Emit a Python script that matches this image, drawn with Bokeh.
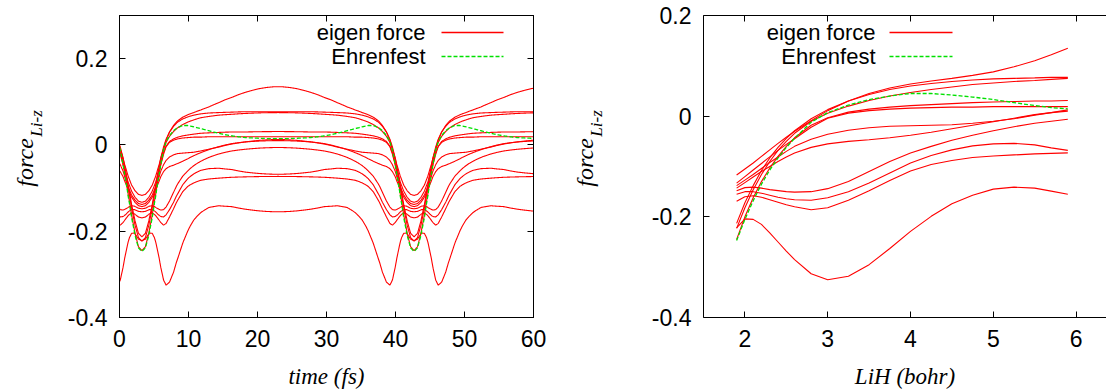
import numpy as np
from bokeh.plotting import figure
from bokeh.layouts import row
from bokeh.models import Range1d, LinearAxis, FixedTicker, Label, Arrow, CustomJSTickFormatter
from bokeh.core.properties import value
from bokeh.embed import file_html
from bokeh.resources import INLINE

# ---------------- data ----------------
# LiH bond length grid (bohr) of the right panel
R_grid = [1.9, 2.0, 2.1, 2.2, 2.3, 2.4, 2.5, 2.6, 2.8, 3.0, 3.25, 3.5, 3.75,
          4.0, 4.25, 4.5, 4.75, 5.0, 5.25, 5.5, 5.7, 5.9]

# eigen forces (Li, z) along the grid
force_c1 = [-0.117, -0.105, -0.093, -0.080, -0.067, -0.054, -0.042, -0.030, -0.009, 0.011, 0.030, 0.045, 0.056,
            0.064, 0.070, 0.075, 0.081, 0.088, 0.098, 0.110, 0.122, 0.135]
force_c2 = [-0.213, -0.172, -0.138, -0.108, -0.083, -0.062, -0.044, -0.029, -0.005, 0.013, 0.030, 0.043, 0.053,
            0.060, 0.065, 0.069, 0.072, 0.074, 0.075, 0.076, 0.077, 0.077]
force_c3 = [-0.223, -0.182, -0.146, -0.116, -0.090, -0.068, -0.050, -0.034, -0.010, 0.006, 0.020, 0.031, 0.040,
            0.047, 0.053, 0.058, 0.063, 0.066, 0.069, 0.071, 0.073, 0.075]
force_c4 = [-0.245, -0.200, -0.162, -0.130, -0.103, -0.080, -0.060, -0.043, -0.018, -0.003, 0.008, 0.014, 0.018,
            0.021, 0.023, 0.025, 0.027, 0.028, 0.029, 0.030, 0.030, 0.031]
force_c5 = [-0.133, -0.120, -0.107, -0.094, -0.081, -0.068, -0.056, -0.045, -0.022, -0.004, 0.006, 0.011, 0.014,
            0.016, 0.017, 0.018, 0.018, 0.019, 0.019, 0.019, 0.019, 0.019]
force_c6 = [-0.138, -0.127, -0.116, -0.104, -0.092, -0.081, -0.070, -0.060, -0.046, -0.036, -0.028, -0.023, -0.020,
            -0.019, -0.018, -0.017, -0.014, -0.010, -0.005, 0.002, 0.007, 0.0125]
force_c7 = [-0.143, -0.132, -0.121, -0.110, -0.100, -0.090, -0.081, -0.073, -0.062, -0.055, -0.050, -0.047, -0.043,
            -0.038, -0.032, -0.025, -0.018, -0.011, -0.004, 0.003, 0.007, 0.010]
force_c8 = [-0.148, -0.142, -0.141, -0.143, -0.146, -0.148, -0.150, -0.151, -0.150, -0.144, -0.130, -0.110, -0.090,
            -0.073, -0.060, -0.048, -0.038, -0.029, -0.021, -0.014, -0.010, -0.006]
force_c9 = [-0.155, -0.150, -0.150, -0.153, -0.157, -0.161, -0.164, -0.166, -0.167, -0.162, -0.150, -0.133, -0.113,
            -0.093, -0.078, -0.067, -0.059, -0.055, -0.054, -0.057, -0.063, -0.068]
force_c10 = [-0.169, -0.160, -0.158, -0.161, -0.166, -0.171, -0.176, -0.180, -0.186, -0.182, -0.167, -0.148, -0.128,
             -0.109, -0.096, -0.088, -0.082, -0.079, -0.077, -0.075, -0.074, -0.073]
force_c11 = [-0.222, -0.204, -0.205, -0.215, -0.232, -0.250, -0.268, -0.285, -0.313, -0.325, -0.318, -0.295, -0.263,
             -0.229, -0.199, -0.174, -0.157, -0.145, -0.141, -0.143, -0.149, -0.155]
eigen_curves = [force_c1, force_c2, force_c3, force_c4, force_c5, force_c6, force_c7,
                force_c8, force_c9, force_c10, force_c11]

# Ehrenfest force along the grid
force_ehrenfest = [-0.247, -0.205, -0.168, -0.135, -0.107, -0.083, -0.062, -0.044, -0.012, 0.007, 0.022, 0.033, 0.040,
                   0.045, 0.045, 0.042, 0.038, 0.033, 0.027, 0.021, 0.017, 0.0145]

# LiH trajectory: bond length vs. time elapsed since the inner turning point (half period)
traj_offset_fs = [0, 0.5, 1.0, 1.5, 2.0, 2.5, 3.0, 3.5, 4.0, 5.0, 6.0, 7.0, 8.0, 9.0, 10.0, 11.0, 12.0,
                  13.0, 14.0, 15.0, 16.0, 17.0, 18.0, 19.0, 19.72]
traj_R_bohr = [1.90, 1.92, 1.99, 2.10, 2.26, 2.47, 2.73, 3.00, 3.25, 3.68, 4.04, 4.36, 4.63, 4.86, 5.06, 5.23, 5.38,
               5.50, 5.61, 5.70, 5.77, 5.83, 5.87, 5.895, 5.90]
first_inner_turn_fs = 3.25
half_period_fs = 19.72

# axes ticks
time_ticks = [0, 10, 20, 30, 40, 50, 60]
lih_ticks = [2, 3, 4, 5, 6]
left_y_ticks = [-0.4, -0.2, 0, 0.2]
right_y_ticks = [-0.4, -0.2, 0, 0.2]
y_tick_labels = {-0.4: "-0.4", -0.2: "-0.2", 0: "0", 0.2: "0.2"}

RED = "#ff0000"
GREEN = "#00e000"
SANS = "Liberation Sans"
SERIF = "Liberation Serif"

TOP = 15          # frame top (px)
FRAME_H = 302
BOTTOM = 73
FIG_H = TOP + FRAME_H + BOTTOM
LABEL_W = 50

# ---------------- time series along the trajectory ----------------
t = np.linspace(0, 60, 1201)
phase = np.mod(t - first_inner_turn_fs, 2 * half_period_fs)
off = np.minimum(phase, 2 * half_period_fs - phase)
R_t = np.interp(off, traj_offset_fs, traj_R_bohr)


def style(p, xticks, yticks, right_border=True):
    p.xaxis.ticker = FixedTicker(ticks=xticks)
    p.yaxis.ticker = FixedTicker(ticks=yticks)
    p.yaxis.major_label_overrides = y_tick_labels
    for ax in (p.xaxis[0], p.yaxis[0]):
        ax.major_label_text_font = SANS
        ax.major_label_text_font_size = "23px"
        ax.major_label_text_color = "black"
        ax.major_tick_in = 6
        ax.major_tick_out = 0
        ax.minor_tick_in = 0
        ax.minor_tick_out = 0
        ax.axis_line_color = "black"
        ax.major_tick_line_color = "black"
        ax.major_label_standoff = 12
    p.xaxis.axis_label_text_font = SERIF
    p.xaxis.axis_label_text_font_style = "italic"
    p.xaxis.axis_label_text_font_size = "23px"
    p.xaxis.axis_label_text_color = "black"
    p.xaxis.axis_label_standoff = 14
    p.xgrid.visible = False
    p.ygrid.visible = False
    blank = CustomJSTickFormatter(code="return ''")
    top = LinearAxis(ticker=FixedTicker(ticks=xticks), formatter=blank, major_tick_in=6, major_tick_out=0,
                     minor_tick_in=0, minor_tick_out=0, axis_line_color="black", major_tick_line_color="black",
                     major_label_standoff=0)
    p.add_layout(top, "above")
    if right_border:
        rgt = LinearAxis(ticker=FixedTicker(ticks=yticks), formatter=blank, major_tick_in=6, major_tick_out=0,
                         minor_tick_in=0, minor_tick_out=0, axis_line_color="black",
                         major_tick_line_color="black", major_label_standoff=0)
        p.add_layout(rgt, "right")


def legend(p, text_right, line_x0, line_x1):
    rows = [("eigen force", RED, "solid", 285), ("Ehrenfest", GREEN, "4 2", 261)]
    for txt, col, dash, y in rows:
        p.add_layout(Label(x=text_right, y=y, x_units="screen", y_units="screen", text=txt,
                           text_align="right", text_baseline="middle", text_font=SANS,
                           text_font_size="22px", text_color="black"))
        p.add_layout(Arrow(start=None, end=None, x_start=line_x0, y_start=y, x_end=line_x1, y_end=y,
                           start_units="screen", end_units="screen", line_color=col, line_width=1.3,
                           line_dash=dash))


def ylabel_fig():
    f = figure(width=LABEL_W, height=FIG_H, x_range=Range1d(0, LABEL_W), y_range=Range1d(0, FIG_H),
               x_axis_type=None, y_axis_type=None, output_backend="svg", toolbar_location=None,
               min_border=0, outline_line_color=None, background_fill_color="white",
               border_fill_color="white")
    f.xgrid.visible = False
    f.ygrid.visible = False
    # "force" with subscript "Li-z", rotated, reading upwards
    f.text(x=[24], y=[FIG_H - 159], text=["force"], angle=np.pi / 2, text_align="right",
           text_baseline="alphabetic", text_font=value(SERIF), text_font_style="italic",
           text_font_size="24px", text_color="black")
    f.text(x=[36], y=[FIG_H - 157], text=["Li-z"], angle=np.pi / 2, text_align="left",
           text_baseline="alphabetic", text_font=value(SERIF), text_font_style="italic",
           text_font_size="17px", text_color="black")
    return f


# ---------------- left panel: force vs time ----------------
p1 = figure(frame_width=414, frame_height=FRAME_H, x_range=Range1d(0, 60), y_range=Range1d(-0.4, 0.3),
            output_backend="svg", toolbar_location=None, min_border_left=119 - LABEL_W, min_border_right=27,
            min_border_top=TOP, min_border_bottom=BOTTOM, background_fill_color="white",
            border_fill_color="white", outline_line_color="black", x_axis_label="time (fs)")
for curve in eigen_curves:
    p1.line(t, np.interp(R_t, R_grid, curve), line_color=RED, line_width=1.1)
p1.line(t, np.interp(R_t, R_grid, force_ehrenfest), line_color=GREEN, line_width=1.3, line_dash="4 2")
style(p1, time_ticks, left_y_ticks)
legend(p1, 306, 322, 384)

# ---------------- right panel: force vs LiH distance ----------------
p2_left = 560 + LABEL_W
p2 = figure(frame_width=1106 - 703, frame_height=FRAME_H, x_range=Range1d(1.5, 1.5 + (1106 - 703) / 82.8),
            y_range=Range1d(-0.4, 0.2),
            output_backend="svg", toolbar_location=None, min_border_left=703 - p2_left, min_border_right=0,
            min_border_top=TOP, min_border_bottom=BOTTOM, background_fill_color="white",
            border_fill_color="white", outline_line_color=None, x_axis_label="LiH (bohr)")
for curve in eigen_curves:
    p2.line(R_grid, curve, line_color=RED, line_width=1.1)
p2.line(R_grid, force_ehrenfest, line_color=GREEN, line_width=1.3, line_dash="4 2")
style(p2, lih_ticks, right_y_ticks, right_border=False)
legend(p2, 172, 186, 249)

layout = row(ylabel_fig(), p1, ylabel_fig(), p2, spacing=0)
open("out.html", "w").write(file_html(layout, INLINE))
